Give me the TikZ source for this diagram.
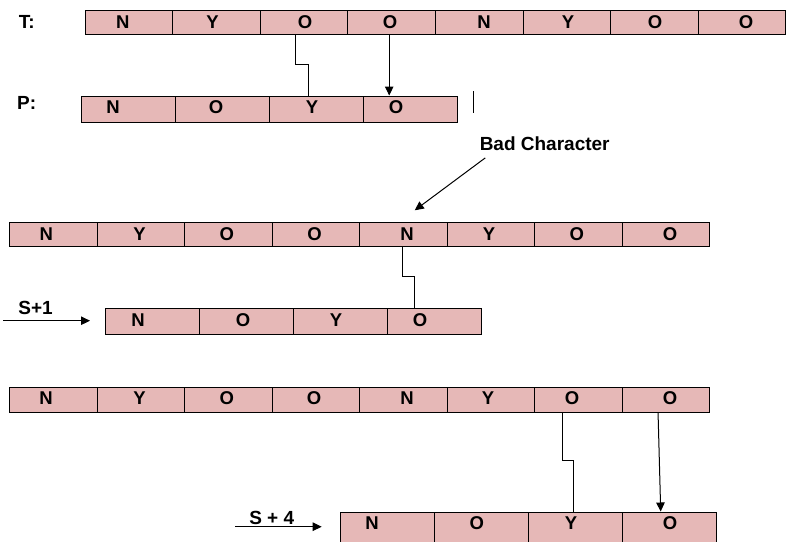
\documentclass[tikz,border=0pt]{standalone}
\usepackage{fontspec}
\setmainfont{Liberation Sans}
\usetikzlibrary{arrows.meta,calc}
\definecolor{cellpink}{HTML}{E6B8B7}
\tikzset{
  cellbox/.style={draw=black, fill=cellpink, line width=1pt, inner sep=0pt, rectangle},
  letter/.style={inner sep=0pt, font=\fontsize{18.5}{20}\selectfont\bfseries},
  lbl/.style={inner sep=0pt, font=\fontsize{19}{21}\selectfont\bfseries},
  conn/.style={draw=black, line width=1pt},
  arr/.style={draw=black, line width=1pt, -{Triangle[length=9pt,width=8.5pt]}}
}
\begin{document}
\begin{tikzpicture}[x=1pt,y=-1pt]
\clip (0,0) rectangle (791,541);
\fill[white] (0,0) rectangle (791,541);
% Row T
\foreach \i/\tx/\lt in {1/122.7/N,2/212.5/Y,3/305/O,4/390/O,5/484/N,6/568/Y,7/655/O,8/746/O}{
  \node[cellbox, minimum width=87.6pt, minimum height=24pt] (t\i) at ({85+87.6*(\i-0.5)},22) {};
  \node[letter] (tl\i) at (\tx,22) {\lt};
}
% Row P
\foreach \i/\tx/\lt in {1/113/N,2/216/O,3/312/Y,4/396/O}{
  \node[cellbox, minimum width=94pt, minimum height=26pt] (p\i) at ({81+94*(\i-0.5)},109) {};
  \node[letter] (pl\i) at (\tx,107.5) {\lt};
}
% Row A
\foreach \i/\tx/\lt in {1/46.3/N,2/139.5/Y,3/226.7/O,4/314.5/O,5/407/N,6/489/Y,7/576.7/O,8/670/O}{
  \node[cellbox, minimum width=87.5pt, minimum height=24pt] (a\i) at ({9.5+87.5*(\i-0.5)},234.3) {};
  \node[letter] (al\i) at (\tx,234) {\lt};
}
% Row B (S+1)
\foreach \i/\tx/\lt in {1/138/N,2/243/O,3/336/Y,4/420/O}{
  \node[cellbox, minimum width=94pt, minimum height=25.7pt] (b\i) at ({105.3+94*(\i-0.5)},321.2) {};
  \node[letter] (bl\i) at (\tx,320.5) {\lt};
}
% Row C
\foreach \i/\tx/\lt in {1/46/N,2/139.5/Y,3/226.7/O,4/314/O,5/407/N,6/488/Y,7/572/O,8/670/O}{
  \node[cellbox, minimum width=87.5pt, minimum height=25pt] (c\i) at ({9.5+87.5*(\i-0.5)},399.8) {};
  \node[letter] (cl\i) at (\tx,398.5) {\lt};
}
% Row D (S+4)
\foreach \i/\tx/\lt in {1/372/N,2/476.7/O,3/571/Y,4/670/O}{
  \node[cellbox, minimum width=94pt, minimum height=32pt] (d\i) at ({340+94*(\i-0.5)},528) {};
  \node[letter] (dl\i) at (\tx,523.5) {\lt};
}
% labels
\node[lbl] (tlab) at (26.7,21.5) {T:};
\node[lbl] (plab) at (26.7,102.5) {P:};
\node[lbl] (bad) at (544.7,143.7) {Bad Character};
\node[lbl] (s1) at (35.5,308.3) {S+1};
\node[lbl] (s4) at (271.7,517.5) {S + 4};
% connectors T -> P
\draw[conn] ([xshift=-8.7pt]t3.south) -- ++(0,30) -| ([xshift=-7.7pt]p3.north);
\draw[arr] ([xshift=-2.4pt]t4.south) -- ([xshift=-2.4pt]t4.south |- p4.north);
\draw[conn] (473.3,91) -- (473.3,112.7);
% bad character arrow
\coordinate (badstart) at ($(bad.south west)+(5.7,7)$);
\coordinate (badend) at ($(a5.north)+(11.5,-11.5)$);
\draw[arr] (badstart) -- (badend);
% A -> B
\draw[conn] ([xshift=-1.2pt]a5.south) -- ++(0,29.7) -| ([xshift=-19.7pt]b4.north);
\coordinate (s1from) at (3.3,320.7);
\draw[arr] (s1from) -- (s1from -| 90,0);
% C -> D
\draw[conn] ([xshift=-15.7pt]c7.south) -- ++(0,47.7) -| ([xshift=-1.2pt]d3.north);
\draw[arr] ([xshift=-7.7pt]c8.south) -- ([xshift=-8.3pt]d4.north);
\coordinate (s4from) at (235,526.7);
\draw[arr] (s4from) -- (s4from -| 321.7,0);
\end{tikzpicture}
\end{document}
